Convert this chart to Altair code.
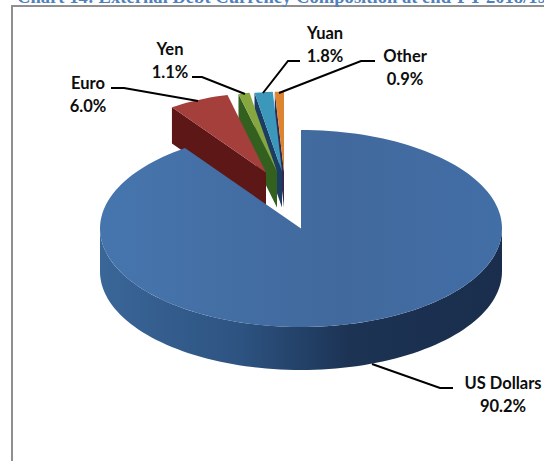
import math
import altair as alt
import pandas as pd

# Currency shares of external debt, in percent, clockwise from twelve o'clock
currencies = ["US Dollars", "Euro", "Yen", "Yuan", "Other"]
shares = [90.2, 6.0, 1.1, 1.8, 0.9]

# Pie drawing parameters (pixels)
CX, CY = 301, 228.5
RX, RY = 201, 98.5
DEPTH = 43
PULLED_SCALE = 0.81
pull_x = {"US Dollars": 0, "Euro": -35, "Yen": -24, "Yuan": -19, "Other": -17}
pull_y = {"US Dollars": 0, "Euro": -56, "Yen": -57, "Yuan": -57, "Other": -57}


def h_gradient(*stops):
    return alt.LinearGradient(
        gradient="linear",
        stops=[alt.GradientStop(color=c, offset=o) for c, o in stops],
        x1=0, x2=1, y1=0, y2=0,
    )


top_fill = {
    "US Dollars": h_gradient(("#4675ad", 0), ("#41699d", 0.6), ("#426ea6", 1)),
    "Euro": "#a53f3c",
    "Yen": "#86a63f",
    "Yuan": "#3c98bb",
    "Other": "#dd8431",
}
wall_fill = {
    "US Dollars": h_gradient(("#3a6698", 0), ("#2d5381", 0.35), ("#1c3354", 0.62), ("#1a2d4c", 1)),
    "Euro": "#5c1716",
    "Yen": "#33601f",
    "Yuan": "#1b3d63",
    "Other": "#33284f",
}

# Two-line data labels: name, value, centre x, first and second baselines
label_names = ["US Dollars", "Euro", "Yen", "Yuan", "Other"]
label_values = ["90.2%", "6.0%", "1.1%", "1.8%", "0.9%"]
label_x = [503, 88, 170, 325, 405]
label_y1 = [389, 89, 55, 39, 62]
label_y2 = [412, 112, 78, 62, 85]

# Leader lines from each label to its slice
leader_x = {"US Dollars": [453, 440, 372], "Euro": [111, 124, 198], "Yen": [192, 202, 245],
            "Yuan": [300, 288, 263], "Other": [375, 361, 279]}
leader_y = {"US Dollars": [388, 388, 364], "Euro": [88, 88, 101], "Yen": [77, 77, 94],
            "Yuan": [61, 61, 93], "Other": [61, 61, 93]}

title_text = "Chart 14: External Debt Currency Composition at end-FY 2018/19"

X = alt.X("x:Q", axis=None, scale=alt.Scale(domain=[0, 544], range=[0, 544]))
Y = alt.Y("y:Q", axis=None, scale=alt.Scale(domain=[0, 461], range=[0, 461]))


def arc(cx, cy, rx, ry, a0, a1):
    steps = max(2, int(abs(a1 - a0) / 2))
    return [(cx + rx * math.sin(math.radians(a0 + (a1 - a0) * k / steps)),
             cy - ry * math.cos(math.radians(a0 + (a1 - a0) * k / steps)))
            for k in range(steps + 1)]


def polygon(points, fill):
    frame = pd.DataFrame(points, columns=["x", "y"]).assign(i=range(len(points)))
    return alt.Chart(frame).mark_line(fill=fill, strokeWidth=0, strokeOpacity=0).encode(
        x=X, y=Y, order="i:Q"
    )


# Angular extent of each slice from its share
spans = {}
angle = 0.0
for name, share in zip(currencies, shares):
    spans[name] = (angle, angle + share * 3.6)
    angle += share * 3.6

layers = []

# Pulled-out slices, back to front, then the main slice over them
for name in ["Other", "Yuan", "Yen", "Euro"]:
    a0, a1 = spans[name]
    tip = (CX + pull_x[name], CY + pull_y[name])
    rx, ry, d = RX * PULLED_SCALE, RY * PULLED_SCALE, DEPTH * 0.84
    outer = arc(tip[0], tip[1], rx, ry, a0, a1)
    first = outer[0]
    layers.append(polygon([tip, first, (first[0], first[1] + d), (tip[0], tip[1] + d)], wall_fill[name]))
    layers.append(polygon([tip] + outer, top_fill[name]))

name = "US Dollars"
front = arc(CX, CY, RX, RY, 90, 270)
layers.append(polygon(front + [(x, y + DEPTH) for x, y in reversed(front)], wall_fill[name]))
layers.append(polygon([(CX, CY)] + arc(CX, CY, RX, RY, *spans[name]), top_fill[name]))

# Leader lines
for name in label_names:
    frame = pd.DataFrame({"x": leader_x[name], "y": leader_y[name], "i": [0, 1, 2]})
    layers.append(alt.Chart(frame).mark_line(color="#000000", strokeWidth=2).encode(x=X, y=Y, order="i:Q"))

# Data labels
label_frame = pd.DataFrame({
    "x": label_x * 2,
    "y": label_y1 + label_y2,
    "t": label_names + label_values,
})
layers.append(alt.Chart(label_frame).mark_text(
    font="Lato", fontWeight="bold", fontSize=16.5, color="#0d0d0d", align="center", baseline="alphabetic"
).encode(x=X, y=Y, text="t:N"))

# Chart frame: only the top and left edges fall inside the page
layers.append(alt.Chart(pd.DataFrame({"x": [12, 12, 544], "y": [461, 6, 6], "i": [0, 1, 2]})).mark_line(
    color="#8f8f8f", strokeWidth=2).encode(x=X, y=Y, order="i:Q"))

# Title sits partly above the page edge
layers.append(alt.Chart(pd.DataFrame({"x": [17], "y": [3], "t": [title_text]})).mark_text(
    font="Liberation Serif", fontWeight="bold", fontSize=18.6, color="#4f81bd", align="left", baseline="alphabetic"
).encode(x=X, y=Y, text="t:N"))

chart = alt.layer(*layers).properties(
    width=544, height=461, padding=0, autosize=alt.AutoSizeParams(type="none"), background="#ffffff"
).configure_view(stroke=None)

chart.save("out.html", embed_options={"renderer": "svg", "actions": False})
